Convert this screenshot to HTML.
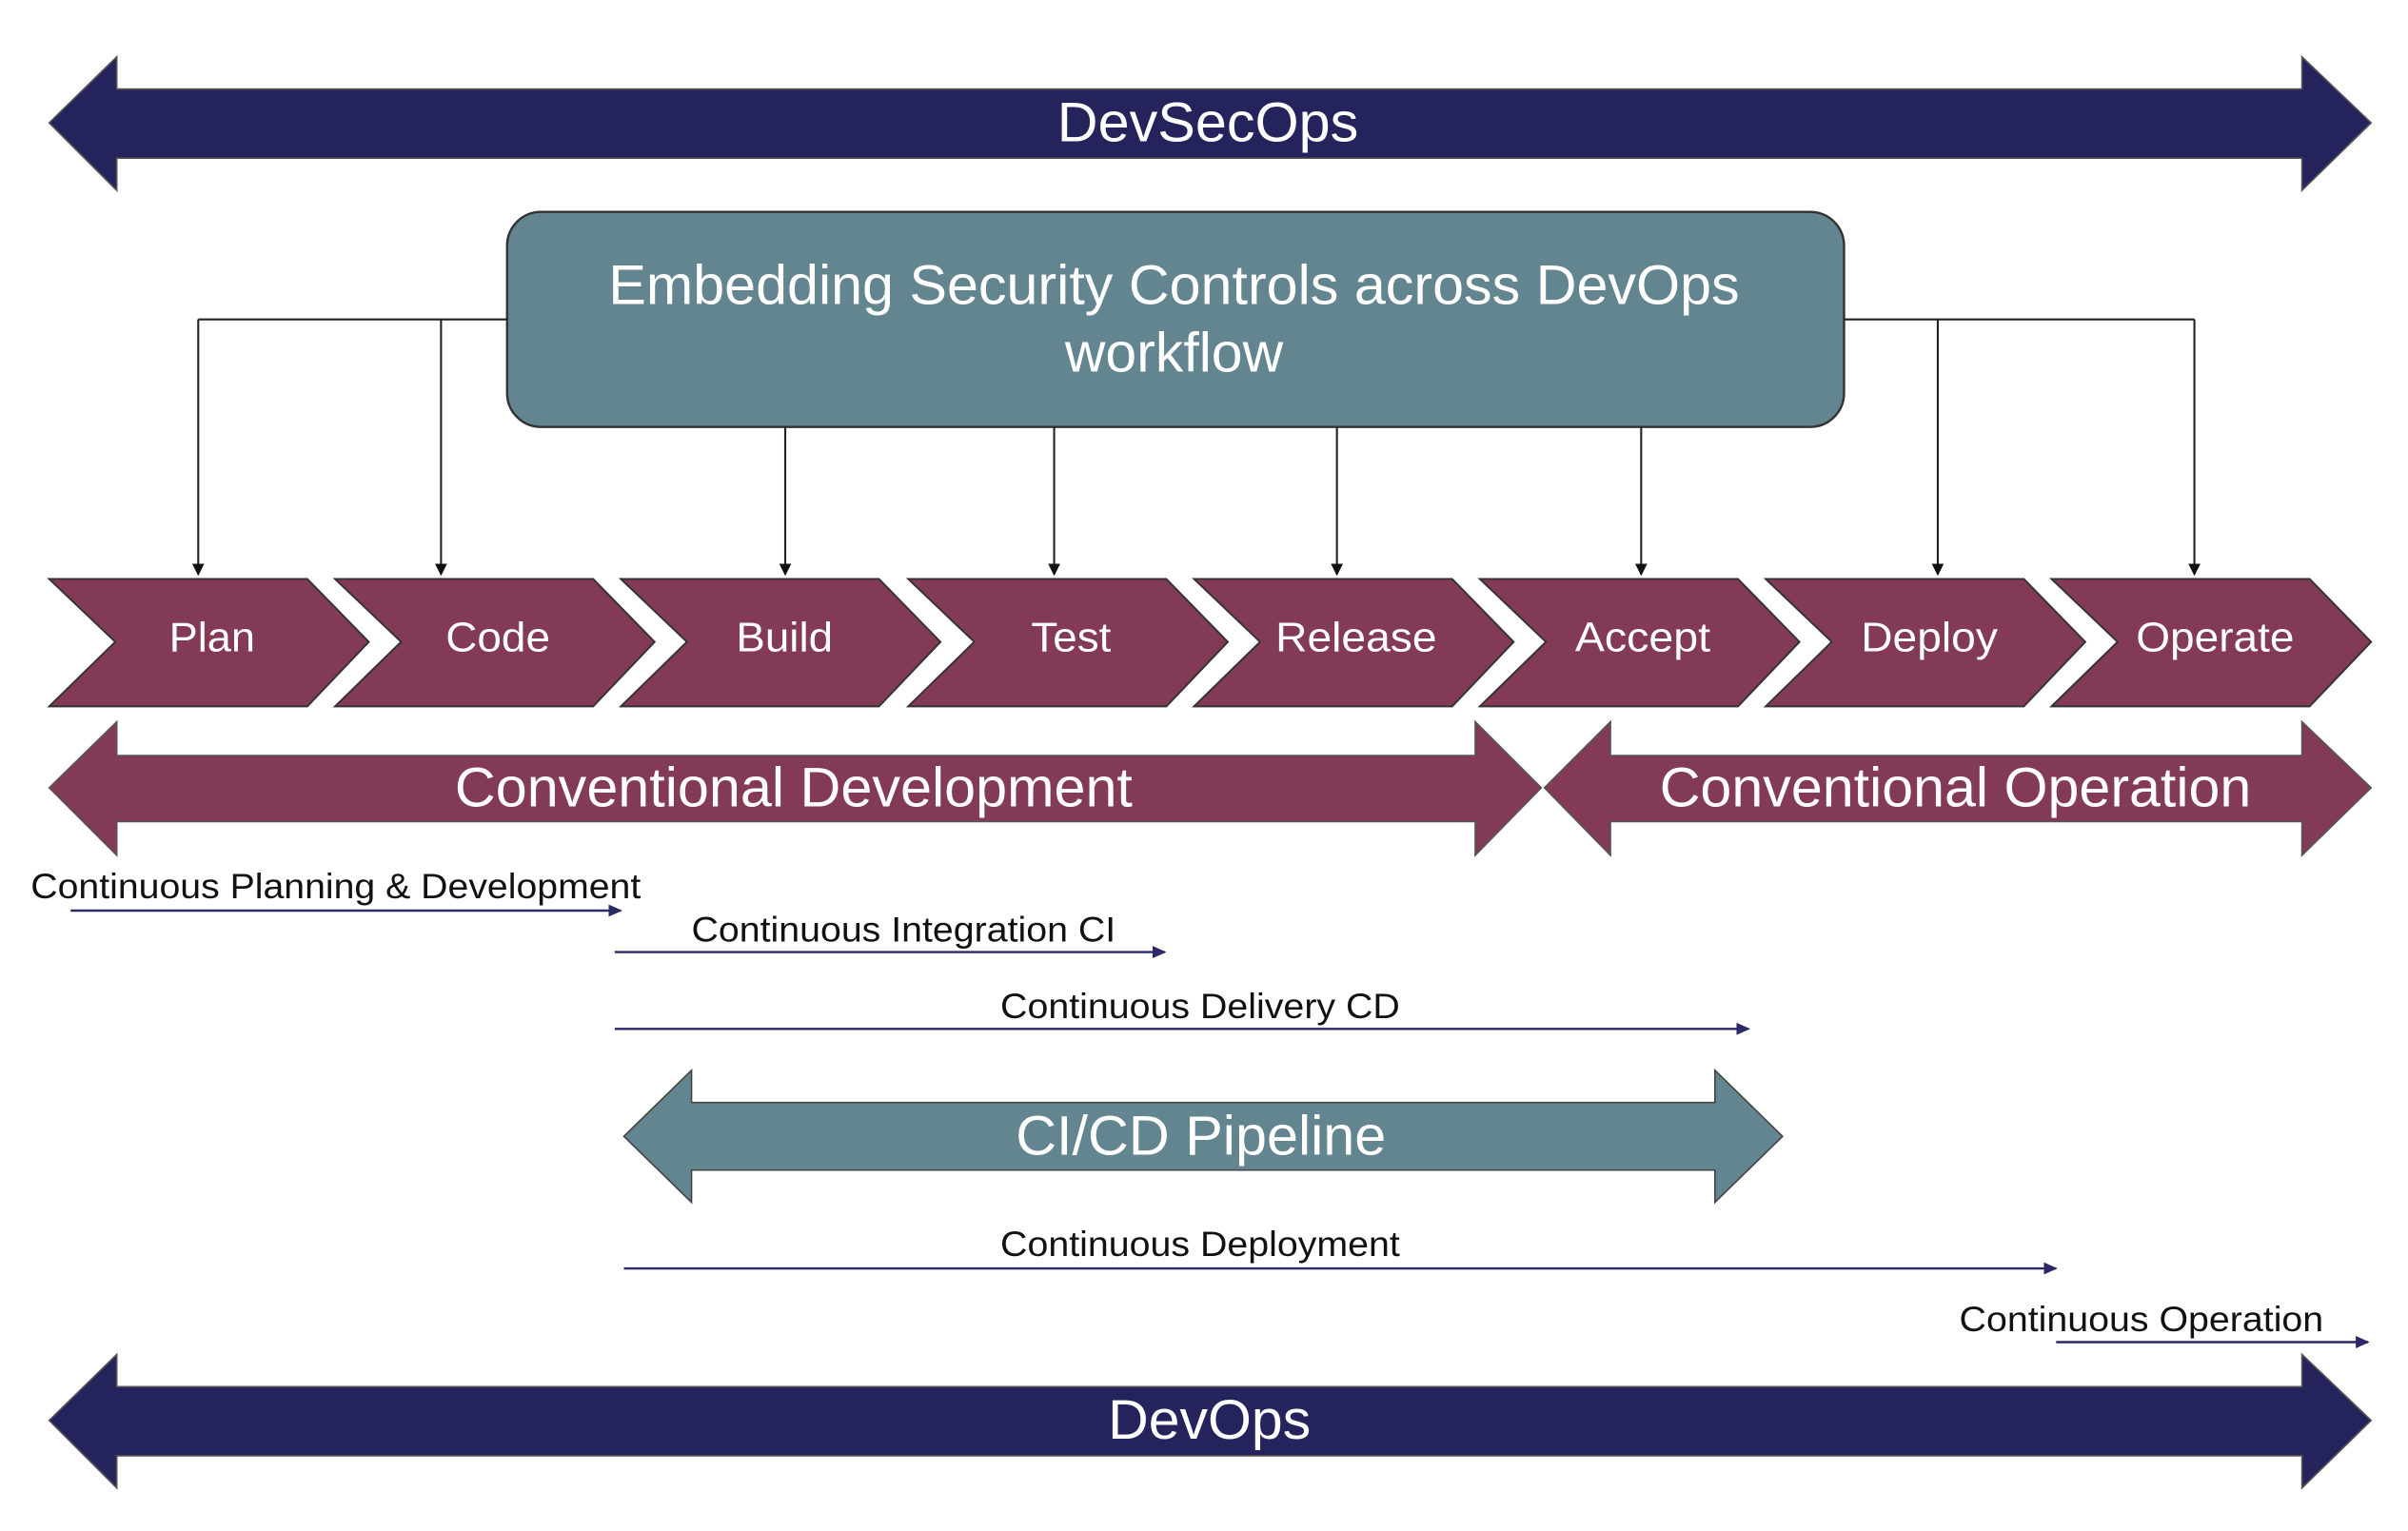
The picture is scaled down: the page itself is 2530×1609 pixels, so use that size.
<!DOCTYPE html>
<html><head><meta charset="utf-8"><style>
html,body{margin:0;padding:0;background:#fff;}
svg{display:block;}
text{font-family:"Liberation Sans",Arial,sans-serif;}
</style></head><body>
<svg width="2530" height="1609" viewBox="0 0 1567 997" preserveAspectRatio="none" xmlns="http://www.w3.org/2000/svg">
<defs>
<marker id="ab" markerWidth="8" markerHeight="8" refX="7" refY="4" orient="auto" markerUnits="userSpaceOnUse"><path d="M0,0 L8,4 L0,8 Z" fill="#111"/></marker>
<marker id="an" markerWidth="9" markerHeight="8" refX="8" refY="4" orient="auto" markerUnits="userSpaceOnUse"><path d="M0,0 L9,4 L0,8 Z" fill="#2c2a66"/></marker>
</defs>
<path d="M32,80 L76,37 L76,58 L1498,58 L1498,37 L1543,80 L1498,124 L1498,103 L76,103 L76,124 Z" fill="#25235b" stroke="#555" stroke-width="1"/>
<text x="688" y="92" font-size="36" fill="#fff" textLength="196" lengthAdjust="spacingAndGlyphs">DevSecOps</text>
<rect x="330" y="138" width="870" height="140" rx="22" fill="#62858f" stroke="#333" stroke-width="1.5"/>
<text x="396" y="198" font-size="36" fill="#fff" textLength="736" lengthAdjust="spacingAndGlyphs">Embedding Security Controls across DevOps</text>
<text x="693" y="242" font-size="36" fill="#fff" textLength="142" lengthAdjust="spacingAndGlyphs">workflow</text>
<g stroke="#222" stroke-width="1.3" fill="none">
<path d="M330,208 L129,208"/><path d="M129,208 L129,374" marker-end="url(#ab)"/>
<path d="M287,208 L287,374" marker-end="url(#ab)"/>
<path d="M511,278 L511,374" marker-end="url(#ab)"/>
<path d="M686,278 L686,374" marker-end="url(#ab)"/>
<path d="M870,278 L870,374" marker-end="url(#ab)"/>
<path d="M1068,278 L1068,374" marker-end="url(#ab)"/>
<path d="M1200,208 L1428,208"/>
<path d="M1261,208 L1261,374" marker-end="url(#ab)"/>
<path d="M1428,208 L1428,374" marker-end="url(#ab)"/>
</g>
<g fill="#833a56" stroke="#333" stroke-width="1.2">
<path d="M32,377 L200,377 L240,418 L200,460 L32,460 L75,418 Z"/>
<path d="M218,377 L386,377 L426,418 L386,460 L218,460 L261,418 Z"/>
<path d="M404,377 L572,377 L612,418 L572,460 L404,460 L447,418 Z"/>
<path d="M591,377 L759,377 L799,418 L759,460 L591,460 L634,418 Z"/>
<path d="M777,377 L945,377 L985,418 L945,460 L777,460 L820,418 Z"/>
<path d="M963,377 L1131,377 L1171,418 L1131,460 L963,460 L1006,418 Z"/>
<path d="M1149,377 L1317,377 L1357,418 L1317,460 L1149,460 L1192,418 Z"/>
<path d="M1335,377 L1503,377 L1543,418 L1503,460 L1335,460 L1378,418 Z"/>
</g>
<g font-size="27" fill="#fff">
<text x="110" y="424" textLength="56" lengthAdjust="spacingAndGlyphs">Plan</text>
<text x="290" y="424" textLength="68" lengthAdjust="spacingAndGlyphs">Code</text>
<text x="479" y="424" textLength="63" lengthAdjust="spacingAndGlyphs">Build</text>
<text x="671" y="424" textLength="52" lengthAdjust="spacingAndGlyphs">Test</text>
<text x="830" y="424" textLength="105" lengthAdjust="spacingAndGlyphs">Release</text>
<text x="1025" y="424" textLength="88" lengthAdjust="spacingAndGlyphs">Accept</text>
<text x="1211" y="424" textLength="89" lengthAdjust="spacingAndGlyphs">Deploy</text>
<text x="1390" y="424" textLength="103" lengthAdjust="spacingAndGlyphs">Operate</text>
</g>
<path d="M32,513 L76,470 L76,492 L960,492 L960,470 L1003,513 L960,557 L960,535 L76,535 L76,557 Z" fill="#833a56" stroke="#555" stroke-width="1"/>
<text x="296" y="525" font-size="36" fill="#fff" textLength="441" lengthAdjust="spacingAndGlyphs">Conventional Development</text>
<path d="M1005,513 L1048,470 L1048,492 L1498,492 L1498,470 L1543,513 L1498,557 L1498,535 L1048,535 L1048,557 Z" fill="#833a56" stroke="#555" stroke-width="1"/>
<text x="1080" y="525" font-size="36" fill="#fff" textLength="385" lengthAdjust="spacingAndGlyphs">Conventional Operation</text>
<g font-size="23" fill="#111">
<text x="20" y="585" textLength="397" lengthAdjust="spacingAndGlyphs">Continuous Planning &amp; Development</text>
<text x="450" y="613" textLength="276" lengthAdjust="spacingAndGlyphs">Continuous Integration CI</text>
<text x="651" y="663" textLength="260" lengthAdjust="spacingAndGlyphs">Continuous Delivery CD</text>
<text x="651" y="818" textLength="260" lengthAdjust="spacingAndGlyphs">Continuous Deployment</text>
<text x="1275" y="867" textLength="237" lengthAdjust="spacingAndGlyphs">Continuous Operation</text>
</g>
<g stroke="#2c2a66" stroke-width="1.5" fill="none">
<path d="M46,593 L404,593" marker-end="url(#an)"/>
<path d="M400,620 L758,620" marker-end="url(#an)"/>
<path d="M400,670 L1138,670" marker-end="url(#an)"/>
<path d="M406,826 L1338,826" marker-end="url(#an)"/>
<path d="M1338,874 L1541,874" marker-end="url(#an)"/>
</g>
<path d="M406,740 L450,697 L450,718 L1116,718 L1116,697 L1160,740 L1116,783 L1116,762 L450,762 L450,783 Z" fill="#62858f" stroke="#444" stroke-width="1"/>
<text x="661" y="752" font-size="36" fill="#fff" textLength="241" lengthAdjust="spacingAndGlyphs">CI/CD Pipeline</text>
<path d="M32,925 L76,882 L76,903 L1498,903 L1498,882 L1543,925 L1498,969 L1498,948 L76,948 L76,969 Z" fill="#25235b" stroke="#555" stroke-width="1"/>
<text x="721" y="937" font-size="36" fill="#fff" textLength="132" lengthAdjust="spacingAndGlyphs">DevOps</text>
</svg>
</body></html>
